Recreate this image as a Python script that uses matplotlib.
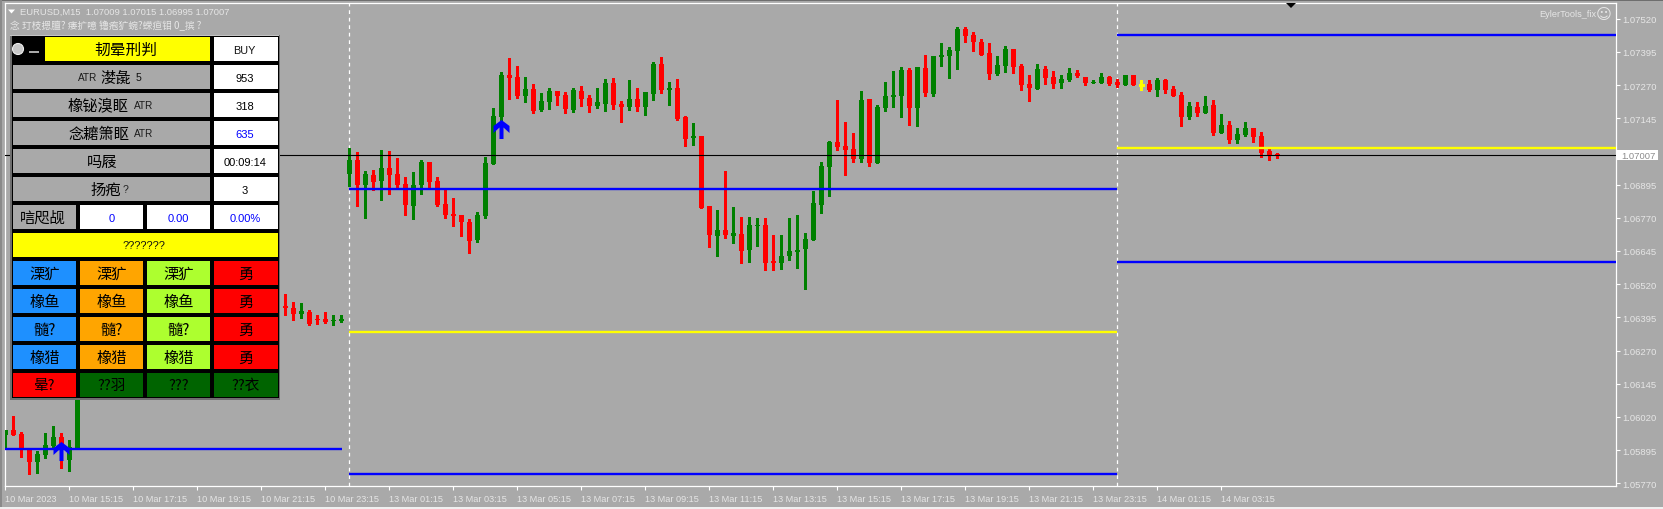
#!/usr/bin/env python3
"""EURUSD M15 terminal chart with the trade panel drawn over it"""

import matplotlib
matplotlib.use('Agg')
import matplotlib.pyplot as plt
from matplotlib.patches import Rectangle, Circle, Polygon
from matplotlib.path import Path

W, H = 1663, 510

BG = '#A9A9A9'
LIGHT = '#E6E6E6'
CJK = ['Noto Sans CJK SC', 'DejaVu Sans']
LATIN = ['Liberation Sans', 'DejaVu Sans']

# bars under the panel (10..34) can't be read so they are left out
bar_pos = list(range(0, 10)) + list(range(35, 160))

opens = [
    1.05952, 1.05971, 1.05956, 1.05899, 1.05850, 1.05877, 1.05910, 1.05944, 1.05858, 1.05899,
    1.06438, 1.06430, 1.06408, 1.06415, 1.06389, 1.06389, 1.06381, 1.06381,
    1.06935, 1.06988, 1.06894, 1.06931, 1.06909, 1.06958, 1.06935, 1.06897, 1.06814, 1.06894,
    1.06980, 1.06909, 1.06822, 1.06784, 1.06781, 1.06754, 1.06686, 1.06777, 1.06973, 1.07150,
    1.07308, 1.07300, 1.07229, 1.07255, 1.07176, 1.07206, 1.07248, 1.07233, 1.07176, 1.07248,
    1.07221, 1.07191, 1.07199, 1.07278, 1.07199, 1.07187, 1.07218, 1.07187, 1.07236, 1.07349,
    1.07251, 1.07259, 1.07150, 1.07071, 1.07078, 1.06814, 1.06701, 1.06724, 1.06701, 1.06709,
    1.06649, 1.06739, 1.06743, 1.06607, 1.06600, 1.06626, 1.06641, 1.06653, 1.06686, 1.06818,
    1.06961, 1.07056, 1.07040, 1.07029, 1.06991, 1.07217, 1.06976, 1.07184, 1.07225, 1.07229,
    1.07327, 1.07184, 1.07334, 1.07236, 1.07376, 1.07380, 1.07398, 1.07481, 1.07459, 1.07432,
    1.07391, 1.07312, 1.07342, 1.07406, 1.07342, 1.07274, 1.07255, 1.07331, 1.07300, 1.07278,
    1.07289, 1.07315, 1.07300, 1.07278, 1.07278, 1.07300, 1.07282, 1.07270, 1.07308, 1.07270,
    1.07274, 1.07251, 1.07289, 1.07255, 1.07233, 1.07150, 1.07187, 1.07165, 1.07195, 1.07090,
    1.07120, 1.07063, 1.07082, 1.07108, 1.07078, 1.07022, 1.07009,
]
highs = [
    1.05971, 1.06023, 1.05963, 1.05899, 1.05892, 1.05959, 1.05986, 1.05959, 1.05933, 1.06200,
    1.06483, 1.06453, 1.06449, 1.06423, 1.06404, 1.06415, 1.06404, 1.06404,
    1.07032, 1.07018, 1.06946, 1.06950, 1.07025, 1.07022, 1.06995, 1.06924, 1.06943, 1.06988,
    1.06980, 1.06924, 1.06875, 1.06845, 1.06781, 1.06765, 1.06792, 1.06999, 1.07184, 1.07319,
    1.07372, 1.07342, 1.07300, 1.07274, 1.07240, 1.07259, 1.07248, 1.07244, 1.07259, 1.07266,
    1.07233, 1.07259, 1.07293, 1.07297, 1.07210, 1.07289, 1.07259, 1.07244, 1.07357, 1.07376,
    1.07282, 1.07293, 1.07153, 1.07127, 1.07078, 1.06814, 1.06799, 1.06946, 1.06811, 1.06773,
    1.06773, 1.06769, 1.06769, 1.06705, 1.06705, 1.06769, 1.06780, 1.06713, 1.06871, 1.06980,
    1.07059, 1.07214, 1.07131, 1.07089, 1.07248, 1.07217, 1.07195, 1.07282, 1.07323, 1.07338,
    1.07334, 1.07338, 1.07383, 1.07380, 1.07428, 1.07413, 1.07489, 1.07489, 1.07470, 1.07443,
    1.07428, 1.07380, 1.07417, 1.07406, 1.07349, 1.07308, 1.07349, 1.07342, 1.07323, 1.07308,
    1.07334, 1.07327, 1.07300, 1.07289, 1.07315, 1.07304, 1.07293, 1.07308, 1.07308, 1.07289,
    1.07289, 1.07297, 1.07293, 1.07266, 1.07244, 1.07206, 1.07206, 1.07229, 1.07214, 1.07161,
    1.07135, 1.07108, 1.07131, 1.07108, 1.07093, 1.07037, 1.07015,
]
lows = [
    1.05899, 1.05952, 1.05869, 1.05805, 1.05809, 1.05865, 1.05899, 1.05828, 1.05816, 1.05899,
    1.06404, 1.06385, 1.06393, 1.06366, 1.06370, 1.06374, 1.06366, 1.06378,
    1.06890, 1.06814, 1.06769, 1.06875, 1.06837, 1.06860, 1.06878, 1.06781, 1.06765, 1.06860,
    1.06878, 1.06814, 1.06769, 1.06739, 1.06701, 1.06637, 1.06679, 1.06769, 1.06973, 1.07135,
    1.07218, 1.07221, 1.07206, 1.07165, 1.07172, 1.07180, 1.07195, 1.07165, 1.07169, 1.07191,
    1.07169, 1.07184, 1.07172, 1.07180, 1.07131, 1.07176, 1.07172, 1.07157, 1.07214, 1.07240,
    1.07195, 1.07138, 1.07040, 1.07044, 1.06807, 1.06660, 1.06626, 1.06694, 1.06675, 1.06600,
    1.06604, 1.06664, 1.06573, 1.06573, 1.06577, 1.06611, 1.06581, 1.06502, 1.06686, 1.06788,
    1.06852, 1.07025, 1.06931, 1.06980, 1.06980, 1.06965, 1.06976, 1.07172, 1.07187, 1.07150,
    1.07120, 1.07116, 1.07229, 1.07229, 1.07342, 1.07297, 1.07331, 1.07432, 1.07398, 1.07383,
    1.07293, 1.07308, 1.07319, 1.07315, 1.07251, 1.07210, 1.07255, 1.07274, 1.07259, 1.07259,
    1.07285, 1.07300, 1.07270, 1.07278, 1.07278, 1.07270, 1.07263, 1.07270, 1.07270, 1.07251,
    1.07248, 1.07229, 1.07240, 1.07229, 1.07116, 1.07142, 1.07153, 1.07165, 1.07082, 1.07090,
    1.07052, 1.07052, 1.07078, 1.07056, 1.06999, 1.06988, 1.06995,
]
closes = [
    1.05971, 1.05952, 1.05895, 1.05850, 1.05880, 1.05914, 1.05944, 1.05895, 1.05907, 1.06200,
    1.06430, 1.06408, 1.06419, 1.06370, 1.06385, 1.06378, 1.06385, 1.06389,
    1.06988, 1.06894, 1.06935, 1.06905, 1.06958, 1.06931, 1.06894, 1.06818, 1.06894, 1.06980,
    1.06905, 1.06818, 1.06781, 1.06777, 1.06754, 1.06683, 1.06781, 1.06976, 1.07153, 1.07308,
    1.07297, 1.07229, 1.07255, 1.07172, 1.07210, 1.07248, 1.07229, 1.07180, 1.07251, 1.07218,
    1.07191, 1.07206, 1.07278, 1.07195, 1.07187, 1.07218, 1.07187, 1.07244, 1.07349, 1.07251,
    1.07259, 1.07142, 1.07067, 1.07078, 1.06807, 1.06705, 1.06724, 1.06705, 1.06713, 1.06645,
    1.06743, 1.06743, 1.06600, 1.06600, 1.06626, 1.06645, 1.06649, 1.06690, 1.06826, 1.06965,
    1.07056, 1.07037, 1.07025, 1.06991, 1.07214, 1.06976, 1.07187, 1.07229, 1.07233, 1.07327,
    1.07184, 1.07338, 1.07240, 1.07380, 1.07383, 1.07402, 1.07481, 1.07455, 1.07432, 1.07383,
    1.07312, 1.07346, 1.07406, 1.07338, 1.07270, 1.07259, 1.07331, 1.07297, 1.07274, 1.07293,
    1.07315, 1.07304, 1.07278, 1.07282, 1.07300, 1.07274, 1.07270, 1.07308, 1.07270, 1.07270,
    1.07251, 1.07289, 1.07251, 1.07229, 1.07150, 1.07191, 1.07165, 1.07191, 1.07090, 1.07120,
    1.07063, 1.07086, 1.07108, 1.07074, 1.07014, 1.07007, 1.07007,
]

bid_price = 1.07007
price_ticks = [1.07520, 1.07395, 1.07270, 1.07145, 1.07020, 1.06895, 1.06770, 1.06645,
               1.06520, 1.06395, 1.06270, 1.06145, 1.06020, 1.05895, 1.05770]
time_ticks = list(range(0, 153, 8))
time_labels = ['10 Mar 2023', '10 Mar 15:15', '10 Mar 17:15', '10 Mar 19:15', '10 Mar 21:15',
               '10 Mar 23:15', '13 Mar 01:15', '13 Mar 03:15', '13 Mar 05:15', '13 Mar 07:15',
               '13 Mar 09:15', '13 Mar 11:15', '13 Mar 13:15', '13 Mar 15:15', '13 Mar 17:15',
               '13 Mar 19:15', '13 Mar 21:15', '13 Mar 23:15', '14 Mar 01:15', '14 Mar 03:15']

day_starts = [43, 139]

# start bar, end bar, price, colour
level_starts = [0, 43, 43, 43, 139, 139, 139]
level_ends = [42.1, 139, 139, 139, 201.3, 201.3, 201.3]
level_prices = [1.05899, 1.06878, 1.06341, 1.05805, 1.07460, 1.07034, 1.06604]
level_colors = ['#0000FF', '#0000FF', '#FFFF00', '#0000FF', '#0000FF', '#FFFF00', '#0000FF']

arrow_pos = [7, 62]
arrow_prices = [1.05893, 1.07103]

ARROW = Path([(0, 9.5), (8, 3.5), (8, -3.5), (2, 2), (2, -9.5), (-2, -9.5), (-2, 2),
              (-8, -3.5), (-8, 3.5), (0, 9.5)], closed=True)


def draw_candles(ax):
    for i, o, h, l, c in zip(bar_pos, opens, highs, lows, closes):
        if c > o:
            color = '#008000'
        elif c < o:
            color = '#FF0000'
        else:
            color = '#FFFF00'
        ax.vlines(i, l, h, color=color, lw=0.75, zorder=3, antialiased=False)
        if c == o:
            # doji, only a dash across the wick
            ax.hlines(o, i - 0.33, i + 0.33, color=color, lw=0.75, zorder=3, antialiased=False)
        else:
            ax.bar(i, abs(c - o), bottom=min(o, c), width=0.66, color=color, zorder=3,
                   antialiased=False, linewidth=0)


def draw_main(fig):
    ax = fig.add_axes([5.0 / W, 1 - 487.0 / H, 1610.7 / W, 482.7 / H], facecolor=BG)
    ax.set_xlim(-0.04, 201.3)
    ax.set_ylim(1.057597, 1.075779)

    for x in day_starts:
        ax.axvline(x, color='white', lw=0.9, ls=(0, (3, 3)), zorder=2)

    draw_candles(ax)

    for s, e, p, c in zip(level_starts, level_ends, level_prices, level_colors):
        ax.hlines(p, s, e, color=c, lw=1.7, zorder=4)
    ax.axhline(bid_price, color='black', lw=0.8, zorder=4)
    ax.plot(arrow_pos, arrow_prices, ls='none', marker=ARROW, ms=13.7, mfc='#0000FF',
            mec='#0000FF', mew=0, zorder=5)

    ax.yaxis.tick_right()
    ax.set_yticks(price_ticks)
    ax.set_yticklabels([f'{p:.5f}' for p in price_ticks], family=LATIN, fontsize=6.8, color=LIGHT)
    ax.set_xticks(time_ticks)
    ax.set_xticklabels(time_labels, family=LATIN, fontsize=6.6, color=LIGHT, ha='left')
    ax.tick_params(axis='y', length=3, width=0.8, color='white', pad=1.8)
    ax.tick_params(axis='x', length=3, width=0.8, color='white', pad=2.5)
    for s in ax.spines.values():
        s.set_color('white')
        s.set_linewidth(0.9)
    return ax


def box(ov, x0, y0, x1, y1, color, z=10):
    ov.add_patch(Rectangle((x0, y0), x1 - x0, y1 - y0, facecolor=color, edgecolor='none', zorder=z))


def label(ov, x, y, s, size=8.0, color='black', fam=CJK, ha='center'):
    ov.text(x, y, s, fontsize=size, color=color, family=fam, ha=ha, va='center', zorder=12)


def draw_panel(ov):
    box(ov, 10, 35.5, 280, 401, '#6E6E6E', 8)
    box(ov, 10, 35.5, 278.5, 37, '#C4C4C4', 9)
    box(ov, 12, 37, 278.5, 398.5, 'black', 9)

    ov.add_patch(Circle((18, 50), 5.5, facecolor='#C8C8C8', edgecolor='#EEEEEE', lw=0.8, zorder=11))
    box(ov, 29, 52.2, 39, 54, BG, 11)

    top = 38
    pitch = 28
    rh = 24.3
    cols = [(13, 76), (80, 143), (147, 210), (214, 277.5)]
    vx = 245.7

    box(ov, 45, top, 210, top + rh, '#FFFF00')
    box(ov, 214, top, 277.5, top + rh, 'white')
    label(ov, 126, top + 12, '韧晕刑判', 11.3)
    label(ov, vx - 1, top + 13, 'BUY', 7.8, '#111111', LATIN)

    values = ['953', '318', '635', '00:09:14', '3']
    vcolors = ['black', 'black', '#0000FF', 'black', 'black']
    for k in range(1, 6):
        y = top + pitch * k
        box(ov, 13, y, 210, y + rh, BG)
        box(ov, 214, y, 277.5, y + rh, 'white')
        label(ov, vx - 1, y + 13, values[k - 1], 8.0, vcolors[k - 1], LATIN)

    cy = top + pitch + 12
    label(ov, 87.5, cy, 'ATR', 7.2, '#1A1A1A', LATIN)
    label(ov, 115.5, cy, '漤彘', 11)
    label(ov, 139, cy, '5', 7.6, '#111111', LATIN)
    for k, s in ((2, '橡铋溴眍'), (3, '念耱箫眍')):
        cy = top + pitch * k + 12
        label(ov, 98.5, cy, s, 11)
        label(ov, 143.5, cy, 'ATR', 7.2, '#1A1A1A', LATIN)
    label(ov, 102, top + pitch * 4 + 12, '吗屐', 11)
    cy = top + pitch * 5 + 12
    label(ov, 106, cy, '扬疱', 11)
    label(ov, 125.5, cy, '?', 7.6, '#222222', LATIN)

    y = top + pitch * 6
    box(ov, cols[0][0], y, cols[0][1], y + rh, BG)
    label(ov, 42.5, y + 12, '唁咫觇', 11)
    for (x0, x1), s in zip(cols[1:], ['0', '0.00', '0.00%']):
        box(ov, x0, y, x1, y + rh, 'white')
        label(ov, (x0 + x1) / 2, y + 13, s, 8.0, '#0000FF', LATIN)

    y = top + pitch * 7
    box(ov, 13, y, 277.5, y + rh, '#FFFF00')
    label(ov, 144, y + 12.5, '???????', 7.8, '#111111', LATIN)

    fills = ['#1E90FF', '#FFA500', '#ADFF2F', '#FF0000']
    names = ['溧犷', '橡鱼', '髓?', '橡猎']
    for r, name in enumerate(names):
        y = top + pitch * (8 + r)
        for c, (x0, x1) in enumerate(cols):
            box(ov, x0, y, x1, y + rh, fills[c])
            label(ov, (x0 + x1) / 2, y + 12, name if c < 3 else '勇', 11)

    y = top + pitch * 12
    bottom_fills = ['#FF0000', '#006400', '#006400', '#006400']
    bottom_names = ['晕?', '??羽', '???', '??衣']
    for (x0, x1), fc, s in zip(cols, bottom_fills, bottom_names):
        box(ov, x0, y, x1, y + rh, fc)
        label(ov, (x0 + x1) / 2, y + 12, s, 10.5)


def draw_overlay(fig):
    ov = fig.add_axes([0, 0, 1, 1], facecolor='none')
    ov.set_xlim(0, W)
    ov.set_ylim(H, 0)
    ov.axis('off')

    # window edges
    box(ov, 0, 0, W, 1.5, '#6E6E6E', 1)
    box(ov, 0, 0, 1.5, H, '#8A8A8A', 1)
    box(ov, 0, 507.5, W, H, '#F0F0F0', 1)

    ov.add_patch(Polygon([(8, 10.5), (15, 10.5), (11.5, 14.5)], facecolor='white', edgecolor='none'))
    ov.add_patch(Polygon([(1286, 4), (1296, 4), (1291, 9)], facecolor='black', edgecolor='none'))

    label(ov, 20.5, 12.5, 'EURUSD,M15  1.07009 1.07015 1.06995 1.07007', 6.75, LIGHT, LATIN, 'left')
    label(ov, 10, 26, '念 玎枝摁膻? 痿扩噫 镥疱犷蜿?蝾疸钼 0_摈 ?', 7.0, LIGHT, CJK, 'left')
    label(ov, 1539, 14.5, 'EylerTools_fix', 6.6, LIGHT, LATIN, 'left')
    label(ov, 1604, 14, '\u263A', 11, LIGHT, ['DejaVu Sans'])

    # current price tag on the scale
    box(ov, 1617, 151.3, 1657.7, 161, 'white')
    label(ov, 1638, 156.5, '1.07007', 6.8, '#8C8C8C', LATIN)

    draw_panel(ov)


def main():
    fig = plt.figure(figsize=(W / 100, H / 100), dpi=100, facecolor=BG)
    draw_main(fig)
    draw_overlay(fig)
    fig.savefig('out.png', dpi=100, facecolor=BG)
    plt.close(fig)


if __name__ == '__main__':
    main()
